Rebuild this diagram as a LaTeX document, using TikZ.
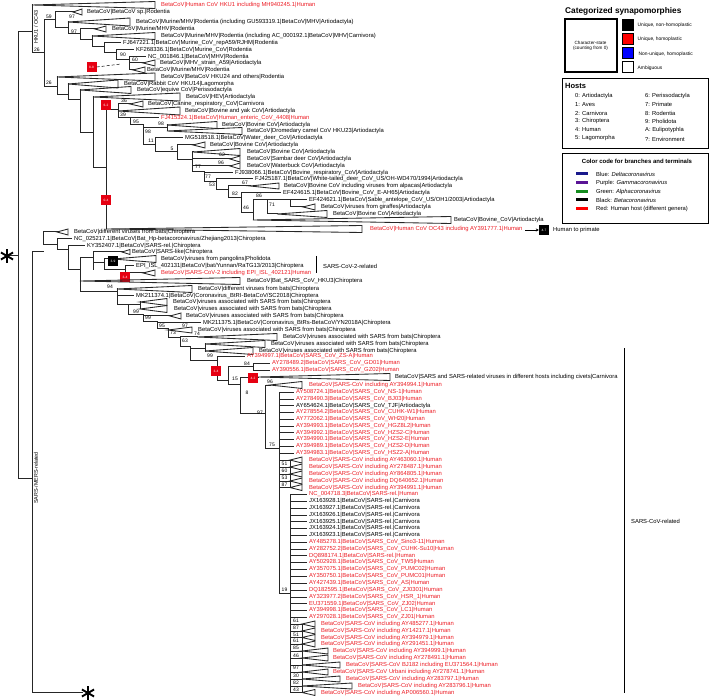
\documentclass[tikz,border=0pt]{standalone}
\usepackage{fontspec}
\setmainfont{Liberation Sans}
\usetikzlibrary{arrows.meta}
\definecolor{labred}{RGB}{236,28,36}
\definecolor{boxred}{RGB}{230,0,18}
\definecolor{lgblue}{RGB}{25,25,140}
\definecolor{lgpurple}{RGB}{90,20,150}
\definecolor{lggreen}{RGB}{20,140,30}
\newcounter{nn}
\tikzset{
 br/.style={line width=1pt, line cap=rect, line join=miter, draw=black!85},
 tri/.style={line width=0.85pt, line join=miter, draw=black!85},
 lbl/.style={anchor=west, inner sep=0pt, font=\fontsize{5.85}{6.5}\selectfont},
 svl/.style={inner sep=0pt, font=\fontsize{5}{5.5}\selectfont},
 synbox/.style={minimum width=10pt, minimum height=10pt, inner sep=0pt, text=white, font=\fontsize{3.2}{3.2}\selectfont},
 lgtxt/.style={anchor=west, inner sep=0pt, font=\fontsize{5.8}{6.5}\selectfont},
}
\newcommand\Vl[3]{\draw[br] (#1,#2) -- (#1,#3);}
\newcommand\Hl[3]{\draw[br] (#2,#1) -- (#3,#1);}
\newcommand\Tr[4]{\draw[tri] (#1,#2) -- (#3,{#2-#4}) -- (#3,{#2+#4}) -- cycle;}
\newcommand\leaftxt[4][black]{\stepcounter{nn}\node[lbl,text=#1] (n\arabic{nn}) at (#2,#3) {#4};}
\newcommand\leafx[5]{\draw[br] (#1,#2) -- ({#3-3},#2); \leaftxt[#4]{#3}{#2}{#5}}
\newcommand\trileaf[8]{\draw[br] (#1,#2) -- (#3,#2); \Tr{#3}{#2}{#4}{#5} \leaftxt[#7]{#6}{#2}{#8}}
\newcommand\bsv[3]{\stepcounter{nn}\node[svl] (n\arabic{nn}) at (#1,#2) {#3};}
\newcommand\synb[4]{\stepcounter{nn}\node[synbox,fill=#1] (n\arabic{nn}) at (#2,#3) {#4};}
\newcommand\astar[2]{\foreach \a in {90,30,-30,-90,-150,150}{\draw[line width=1.9pt] (#1,#2) -- ++(\a:7);}}
\begin{document}
\begin{tikzpicture}[x=1pt,y=-1pt]
\useasboundingbox (0,0) rectangle (709,700);
% ---------------- root ----------------
\Vl{18}{32}{478}
\Hl{256}{9}{18}
\astar{7}{256}
% ---------------- HKU1 / OC43 ----------------
\Hl{32}{18}{32}
\Vl{32}{5}{53}
\node[rotate=90, inner sep=0pt, font=\fontsize{5.4}{6}\selectfont] (hk) at (36,27) {HKU1 / OC43};
\trileaf{32}{5}{32}{155}{3.5}{161}{labred}{BetaCoV|Human CoV HKU1 including MH940245.1|Human}
\Hl{53}{32}{44}
\Vl{44}{20}{87}
\Hl{20}{44}{55}
\Vl{55}{12}{28}
\trileaf{55}{12}{73}{82}{3}{87}{black}{BetaCoV|BetaCoV sp.|Rodentia}
\Hl{28}{55}{68}
\Vl{68}{22}{34}
\trileaf{68}{22}{68}{130}{4}{136}{black}{BetaCoV|Murine/MHV|Rodentia (including GU593319.1|BetaCoV|MHV|Artiodactyla)}
\Hl{34}{68}{80}
\Vl{80}{29}{40}
\trileaf{80}{29}{95}{106}{3}{112}{black}{BetaCoV|Murine/MHV|Rodentia}
\Hl{40}{80}{92}
\Vl{92}{36}{47}
\trileaf{92}{36}{92}{155}{3.5}{161}{black}{BetaCoV|Murine/MHV|Rodentia (including AC\_000192.1|BetaCoV|MHV|Carnivora)}
\Hl{47}{92}{104}
\Vl{104}{43}{53}
\leafx{104}{43}{123}{black}{FJ647221.1|BetaCoV|Murine\_CoV\_repA59/RJHM|Rodentia}
\Hl{53}{104}{116}
\Vl{116}{50}{60}
\leafx{116}{50}{136}{black}{KF268336.1|BetaCoV|Murine\_CoV|Rodentia}
\Hl{60}{116}{129}
\Vl{129}{57}{70}
\leafx{129}{57}{148}{black}{NC\_001846.1|BetaCoV|MHV|Rodentia}
\trileaf{129}{63}{143}{155}{3}{160}{black}{BetaCoV|MHV\_strain\_A59|Artiodactyla}
\trileaf{129}{70}{133}{145}{3}{147}{black}{BetaCoV|Murine/MHV|Rodentia}
\bsv{72}{17}{97}
\bsv{49}{17}{59}
\bsv{74}{32}{97}
\bsv{123}{55}{90}
\bsv{135}{60}{60}
\bsv{37}{50}{26}
\synb{boxred}{91.5}{67}{8-8}
\draw[densely dashed, line width=0.5pt] (n\arabic{nn}.east) -- (121,64);
\Hl{87}{44}{57}
\Vl{57}{77}{95}
\bsv{49}{83}{26}
\trileaf{57}{77}{57}{155}{4}{161}{black}{BetaCoV|BetaCoV HKU24 and others|Rodentia}
\Hl{95}{57}{68}
\Vl{68}{84}{100}
\trileaf{68}{84}{68}{118}{4}{124}{black}{BetaCoV|Rabbit CoV HKU14|Lagomorpha}
\Hl{100}{68}{80}
\Vl{80}{90}{133}
\trileaf{80}{90}{80}{131}{3.5}{137}{black}{BetaCoV|equive CoV|Perissodactyla}
\Hl{133}{80}{93}
\Vl{93}{97}{168}
\trileaf{93}{97}{93}{180}{4}{186}{black}{BetaCoV|HEV|Artiodactyla}
\Hl{168}{93}{106}
\Vl{106}{110}{229}
\Hl{110}{106}{118}
\Vl{118}{104}{118}
\trileaf{118}{104}{130}{143}{3}{148}{black}{BetaCoV|Canine\_respiratory\_CoV|Carnivora}
\trileaf{118}{111}{118}{180}{4}{185}{black}{BetaCoV|Bovine and yak CoV|Artiodactyla}
\Hl{118}{118}{130}
\Vl{130}{118}{125}
\leafx{130}{118}{161}{labred}{FJ415324.1|BetaCoV|Human\_enteric\_CoV\_4408|Human}
\Hl{125}{130}{143}
\Vl{143}{125}{145}
\Hl{128}{143}{167}
\Vl{167}{125}{131}
\trileaf{167}{125}{167}{217}{3.5}{222}{black}{BetaCoV|Bovine CoV|Artiodactyla}
\trileaf{167}{131}{167}{242}{3.5}{247}{black}{BetaCoV|Dromedary camel CoV HKU23|Artiodactyla}
\Hl{145}{143}{155}
\Vl{155}{138}{152}
\leafx{155}{138}{185}{black}{MG518518.1|BetaCoV|Water\_deer\_CoV|Artiodactyla}
\Hl{152}{155}{177}
\Vl{177}{145}{160}
\trileaf{177}{145}{193}{205}{3}{210}{black}{BetaCoV|Bovine CoV|Artiodactyla}
\Hl{160}{177}{192}
\Vl{192}{152}{172}
\trileaf{192}{152}{193}{240}{3.5}{247}{black}{BetaCoV|Bovine CoV|Artiodactyla}
\trileaf{192}{159}{230}{240}{3}{247}{black}{BetaCoV|Sambar deer CoV|Artiodactyla}
\trileaf{192}{166}{230}{240}{3}{247}{black}{BetaCoV|Waterbuck CoV|Artiodactyla}
\Hl{172}{192}{204}
\Vl{204}{172}{182}
\leafx{204}{173}{235}{black}{FJ938066.1|BetaCoV|Bovine\_respiratory\_CoV|Artiodactyla}
\Hl{182}{204}{216}
\Vl{216}{179}{190}
\leafx{216}{179}{255}{black}{FJ425187.1|BetaCoV|White-tailed\_deer\_CoV\_US/OH-WD470/1994|Artiodactyla}
\Hl{190}{216}{228}
\Vl{228}{186}{198}
\trileaf{228}{186}{250}{279}{3}{284}{black}{BetaCoV|Bovine CoV including viruses from alpacas|Artiodactyla}
\Hl{198}{228}{241}
\Vl{241}{193}{213}
\leafx{241}{193}{283}{black}{EF424615.1|BetaCoV|Bovine\_CoV\_E-AH65|Artiodactyla}
\Hl{213}{241}{253}
\Vl{253}{200}{220}
\Hl{200}{253}{267}
\Vl{267}{200}{214}
\Hl{200}{267}{290}
\Vl{290}{200}{207}
\leafx{290}{200}{309}{black}{EF424621.1|BetaCoV|Sable\_antelope\_CoV\_US/OH1/2003|Artiodactyla}
\trileaf{290}{207}{303}{315}{3}{321}{black}{BetaCoV|viruses from giraffes|Artiodactyla}
\trileaf{267}{214}{277}{327}{3.5}{333}{black}{BetaCoV|Bovine CoV|Artiodactyla}
\trileaf{253}{220}{253}{451}{3.5}{454}{black}{BetaCoV|Bovine\_CoV|Artiodactyla}
\trileaf{106}{229}{106}{362}{3.5}{370}{labred}{BetaCoV|Human CoV OC43 including AY391777.1|Human}
\synb{boxred}{106}{105}{6-2}
\synb{boxred}{106}{200}{0-4}
\bsv{124}{101}{36}
\bsv{123}{115}{39}
\bsv{136}{122}{95}
\bsv{161}{124}{98}
\bsv{148}{132}{98}
\bsv{151}{141}{11}
\bsv{172}{149}{5}
\bsv{222}{155}{62}
\bsv{221}{163}{96}
\bsv{198}{167}{77}
\bsv{208}{177}{77}
\bsv{245}{183}{67}
\bsv{212}{185}{53}
\bsv{235}{194}{82}
\bsv{259}{196}{86}
\bsv{272}{205}{71}
\bsv{246}{208}{46}
% human to primate
\synb{black}{544}{230}{4-7}
\draw[line width=0.7pt,-{Stealth[length=3pt,width=3pt]}] (525,230) -- (n\arabic{nn}.west);
\leaftxt{553}{230}{Human to primate}
% ---------------- SARS / MERS related ----------------
\Hl{478}{18}{32}
\Vl{32}{252}{692}
\node[rotate=90, inner sep=0pt, font=\fontsize{5.4}{6}\selectfont] (smr) at (36,478) {SARS-/MERS-related};
\Hl{692}{32}{82}
\astar{88}{693}
\Hl{252}{32}{43}
\Vl{43}{232}{245}
\trileaf{43}{232}{57}{68}{3}{74}{black}{BetaCoV|different viruses from bats|Chiroptera}
\Hl{245}{43}{57}
\Vl{57}{239}{250}
\leafx{57}{239}{74}{black}{NC\_025217.1|BetaCoV|Bat\_Hp-betacoronavirus/Zhejiang2013|Chiroptera}
\Hl{250}{57}{68}
\Vl{68}{246}{270}
\leafx{68}{246}{87}{black}{KY352407.1|BetaCoV|SARS-rel.|Chiroptera}
\Hl{270}{68}{80}
\Vl{80}{258}{292}
\Hl{258}{80}{93}
\Vl{93}{252}{270}
\trileaf{93}{252}{122}{130}{2.5}{132}{black}{BetaCoV|SARS-like|Chiroptera}
\Hl{263}{93}{104}
\Vl{104}{259}{270}
\trileaf{104}{259}{113}{156}{3.5}{161}{black}{BetaCoV|viruses from pangolins|Pholidota}
\Hl{270}{104}{125}
\Vl{125}{266}{277}
\leafx{125}{266}{136}{black}{EPI\_ISL\_402131|BetaCoV|bat/Yunnan/RaTG13/2013|Chiroptera}
\trileaf{125}{273}{143}{155}{3}{161}{labred}{BetaCoV|SARS-CoV-2 including EPI\_ISL\_402121|Human}
\synb{black}{113}{261}{3-9}
\synb{boxred}{125}{277}{3-4}
\trileaf{80}{281}{80}{240}{3.5}{247}{black}{BetaCoV|Bat\_SARS\_CoV\_HKU3|Chiroptera}
\draw[line width=0.8pt] (316,256) -- (316,273);
\leaftxt{323}{266}{SARS-CoV-2-related}
\Hl{292}{80}{117}
\Vl{117}{289}{305}
\bsv{110}{287}{94}
\trileaf{117}{289}{117}{192}{3.5}{198}{black}{BetaCoV|different viruses from bats|Chiroptera}
\leafx{117}{296}{136}{black}{MK211374.1|BetaCoV|Coronavirus\_BtRI-BetaCoV/SC2018|Chiroptera}
\Hl{305}{117}{128}
\Vl{128}{305}{315}
\Hl{305}{128}{140}
\Vl{140}{302}{309}
\trileaf{140}{302}{140}{167}{3.5}{173}{black}{BetaCoV|viruses associated with SARS from bats|Chiroptera}
\trileaf{140}{309}{140}{167}{3.5}{174}{black}{BetaCoV|viruses associated with SARS from bats|Chiroptera}
\Hl{315}{128}{143}
\Vl{143}{315}{322}
\trileaf{143}{316}{170}{181}{3}{186}{black}{BetaCoV|viruses associated with SARS from bats|Chiroptera}
\Hl{322}{143}{157}
\Vl{157}{322}{329}
\leafx{157}{323}{203}{black}{MK211375.1|BetaCoV|Coronavirus\_BtRs-BetaCoV/YN2018A|Chiroptera}
\Hl{329}{157}{168}
\Vl{168}{329}{338}
\trileaf{168}{330}{168}{192}{3}{198}{black}{BetaCoV|viruses associated with SARS from bats|Chiroptera}
\Hl{338}{168}{180}
\Vl{180}{337}{346}
\trileaf{180}{337}{197}{277}{3.5}{283}{black}{BetaCoV|viruses associated with SARS from bats|Chiroptera}
\Hl{346}{180}{190}
\Vl{190}{346}{360}
\Hl{348}{190}{205}
\Vl{205}{344}{351}
\trileaf{205}{344}{205}{265}{3.5}{271}{black}{BetaCoV|viruses associated with SARS from bats|Chiroptera}
\trileaf{205}{351}{205}{253}{3.5}{259}{black}{BetaCoV|viruses associated with SARS from bats|Chiroptera}
\Hl{360}{190}{217}
\Vl{217}{356}{380}
\leafx{217}{356}{247}{labred}{AY394997.1|BetaCoV|SARS\_CoV\_ZS-A|Human}
\Hl{380}{217}{228}
\Vl{228}{366}{384}
\Hl{366}{228}{253}
\Vl{253}{363}{370}
\leafx{253}{363}{272}{labred}{AY278489.2|BetaCoV|SARS\_CoV\_GD01|Human}
\leafx{253}{370}{272}{labred}{AY390556.1|BetaCoV|SARS\_CoV\_GZ02|Human}
\Hl{384}{228}{240}
\Vl{240}{378}{413}
\trileaf{240}{377}{258}{390}{3.5}{395}{black}{BetaCoV|SARS and SARS-related viruses in different hosts including civets|Carnivora}
\Hl{413}{240}{265}
\Vl{265}{385}{448}
\trileaf{265}{385}{270}{302}{3.5}{309}{labred}{BetaCoV|SARS-CoV including AY394994.1|Human}
\synb{boxred}{216}{371}{3-4}
\synb{boxred}{253}{378}{4-2}
\bsv{136}{312}{99}
\bsv{148}{318}{99}
\bsv{162}{326}{95}
\bsv{185}{326}{97}
\bsv{173}{333}{73}
\bsv{197}{334}{74}
\bsv{185}{341}{63}
\bsv{210}{356}{99}
\bsv{247}{364}{84}
\bsv{235}{379}{15}
\bsv{270}{382}{96}
\bsv{247}{393}{8}
\bsv{260}{413}{97}
\bsv{272}{445}{75}
% polytomy 1
\Hl{448}{265}{279}
\Vl{279}{392}{593}
\leafx{279}{392}{296}{labred}{AY508724.1|BetaCoV|SARS\_CoV\_NS-1|Human}
\leafx{279}{399}{296}{labred}{AY278490.3|BetaCoV|SARS\_CoV\_BJ03|Human}
\leafx{279}{405.5}{296}{black}{AY654624.1|BetaCoV|SARS\_CoV\_TJF|Artiodactyla}
\leafx{279}{412}{296}{labred}{AY278554.2|BetaCoV|SARS\_CoV\_CUHK-W1|Human}
\leafx{279}{419}{296}{labred}{AY772062.1|BetaCoV|SARS\_CoV\_WH20|Human}
\leafx{279}{426}{296}{labred}{AY394993.1|BetaCoV|SARS\_CoV\_HGZ8L2|Human}
\leafx{279}{432.5}{296}{labred}{AY394992.1|BetaCoV|SARS\_CoV\_HZS2-C|Human}
\leafx{279}{439}{296}{labred}{AY394990.1|BetaCoV|SARS\_CoV\_HZS2-E|Human}
\leafx{279}{446}{296}{labred}{AY394989.1|BetaCoV|SARS\_CoV\_HZS2-D|Human}
\leafx{279}{453}{296}{labred}{AY394983.1|BetaCoV|SARS\_CoV\_HSZ2-A|Human}
\Vl{290}{460}{487.5}
\trileaf{279}{460}{290}{302}{3}{309}{labred}{BetaCoV|SARS-CoV including AY463060.1|Human}
\trileaf{279}{467}{290}{302}{3}{309}{labred}{BetaCoV|SARS-CoV including AY278487.1|Human}
\trileaf{279}{474}{290}{302}{3}{309}{labred}{BetaCoV|SARS-CoV including AY864805.1|Human}
\trileaf{279}{481}{290}{302}{3}{309}{labred}{BetaCoV|SARS-CoV including DQ640652.1|Human}
\trileaf{279}{487.5}{290}{302}{3}{309}{labred}{BetaCoV|SARS-CoV including AY394991.1|Human}
\bsv{284.5}{463.5}{51}
\bsv{284.5}{470.5}{60}
\bsv{284.5}{477.5}{53}
\bsv{284.5}{484.3}{87}
% polytomy 2
\Hl{593}{279}{290}
\bsv{284.5}{590}{19}
\Vl{290}{494}{692.5}
\leafx{290}{494}{309}{labred}{NC\_004718.3|BetaCoV|SARS-rel.|Human}
\leafx{290}{501}{309}{black}{JX163928.1|BetaCoV|SARS-rel.|Carnivora}
\leafx{290}{508}{309}{black}{JX163927.1|BetaCoV|SARS-rel.|Carnivora}
\leafx{290}{515}{309}{black}{JX163926.1|BetaCoV|SARS-rel.|Carnivora}
\leafx{290}{521.5}{309}{black}{JX163925.1|BetaCoV|SARS-rel.|Carnivora}
\leafx{290}{528}{309}{black}{JX163924.1|BetaCoV|SARS-rel.|Carnivora}
\leafx{290}{535}{309}{black}{JX163923.1|BetaCoV|SARS-rel.|Carnivora}
\leafx{290}{542}{309}{labred}{AY485278.1|BetaCoV|SARS\_CoV\_Sino3-11|Human}
\leafx{290}{549}{309}{labred}{AY282752.2|BetaCoV|SARS\_CoV\_CUHK-Su10|Human}
\leafx{290}{555.5}{309}{labred}{DQ898174.1|BetaCoV|SARS-rel.|Human}
\leafx{290}{562}{309}{labred}{AY502928.1|BetaCoV|SARS\_CoV\_TW5|Human}
\leafx{290}{569}{309}{labred}{AY357075.1|BetaCoV|SARS\_CoV\_PUMC02|Human}
\leafx{290}{576}{309}{labred}{AY350750.1|BetaCoV|SARS\_CoV\_PUMC01|Human}
\leafx{290}{583}{309}{labred}{AY427439.1|BetaCoV|SARS\_CoV\_AS|Human}
\leafx{290}{590}{309}{labred}{DQ182595.1|BetaCoV|SARS\_CoV\_ZJ0301|Human}
\leafx{290}{597}{309}{labred}{AY323977.2|BetaCoV|SARS\_CoV\_HSR\_1|Human}
\leafx{290}{603.5}{309}{labred}{EU371559.1|BetaCoV|SARS\_CoV\_ZJ02|Human}
\leafx{290}{610}{309}{labred}{AY394998.1|BetaCoV|SARS\_CoV\_LC1|Human}
\leafx{290}{617}{309}{labred}{AY297028.1|BetaCoV|SARS\_CoV\_ZJ01|Human}
\Vl{302}{624}{692.5}
\trileaf{290}{624}{302}{315}{3}{321}{labred}{BetaCoV|SARS-CoV including AY485277.1|Human}
\trileaf{290}{631}{302}{315}{3}{321}{labred}{BetaCoV|SARS-CoV including AY14217.1|Human}
\trileaf{290}{637.5}{302}{315}{3}{321}{labred}{BetaCoV|SARS-CoV including AY394979.1|Human}
\trileaf{290}{644}{302}{315}{3}{321}{labred}{BetaCoV|SARS-CoV including AY291451.1|Human}
\trileaf{290}{651}{302}{328}{3}{333}{labred}{BetaCoV|SARS-CoV including AY394999.1|Human}
\trileaf{290}{658}{302}{328}{3}{333}{labred}{BetaCoV|SARS-CoV including AY278491.1|Human}
\trileaf{290}{665}{302}{340}{3}{346}{labred}{BetaCoV|SARS-CoV BJ182 including EU371564.1|Human}
\trileaf{290}{672}{302}{328}{3}{333}{labred}{BetaCoV|SARS-CoV Urbani including AY278741.1|Human}
\trileaf{290}{679}{302}{340}{3}{346}{labred}{BetaCoV|SARS-CoV including AY283797.1|Human}
\trileaf{290}{686}{302}{352}{3}{358}{labred}{BetaCoV|SARS-CoV including AY283796.1|Human}
\trileaf{290}{692.5}{302}{315}{3}{321}{labred}{BetaCoV|SARS-CoV including AP006560.1|Human}
\bsv{296}{621}{61}
\bsv{296}{628}{87}
\bsv{296}{634.5}{51}
\bsv{296}{641}{61}
\bsv{296}{648}{85}
\bsv{296}{655.5}{46}
\bsv{296}{668}{97}
\bsv{296}{675.5}{30}
\bsv{296}{682.5}{82}
\bsv{296}{689.5}{43}
\draw[line width=0.8pt] (624,348) -- (624,693);
\leaftxt{631}{521}{SARS-CoV-related}
% ---------------- legends ----------------
\node[anchor=west, inner sep=0pt, font=\bfseries\fontsize{8.3}{9}\selectfont] (lg1) at (565,11) {Categorized synapomorphies};
\node[draw, line width=2pt, minimum width=52pt, minimum height=53pt, inner sep=0pt, align=center, font=\fontsize{4.6}{5.6}\selectfont] (cs) at (590.5,46) {Character-state\\(counting from 0)};
\node[draw, line width=0.7pt, fill=black, minimum size=11.5pt, inner sep=0pt] (q1) at (628,25) {};
\node[draw, line width=0.7pt, fill=red, minimum size=11.5pt, inner sep=0pt] (q2) at (628,39) {};
\node[draw, line width=0.7pt, fill=blue, minimum size=11.5pt, inner sep=0pt] (q3) at (628,53) {};
\node[draw, line width=0.7pt, fill=white, minimum size=11.5pt, inner sep=0pt] (q4) at (628,67) {};
\node[anchor=west, inner sep=0pt, font=\fontsize{4.9}{5.5}\selectfont] (q1t) at (637.5,25) {Unique, non-homoplastic};
\node[anchor=west, inner sep=0pt, font=\fontsize{4.9}{5.5}\selectfont] (q2t) at (637.5,39) {Unique, homoplastic};
\node[anchor=west, inner sep=0pt, font=\fontsize{4.9}{5.5}\selectfont] (q3t) at (638.5,54) {Non-unique, homoplastic};
\node[anchor=west, inner sep=0pt, font=\fontsize{4.9}{5.5}\selectfont] (q4t) at (637.5,68) {Ambiguous};
\node[draw, line width=1pt, minimum width=146pt, minimum height=70pt, anchor=north west, inner sep=0pt] (hb) at (562,78) {};
\node[anchor=west, inner sep=0pt, font=\bfseries\fontsize{7.5}{8}\selectfont] (hbt) at (565,86) {Hosts};
\node[lgtxt] (h0) at (575,96) {0: Artiodactyla};
\node[lgtxt] (h1) at (575,104.5) {1: Aves};
\node[lgtxt] (h2) at (575,113) {2: Carnivora};
\node[lgtxt] (h3) at (575,121.5) {3: Chiroptera};
\node[lgtxt] (h4) at (575,130) {4: Human};
\node[lgtxt] (h5) at (575,138.5) {5: Lagomorpha};
\node[lgtxt] (h6) at (645,96) {6: Perissodactyla};
\node[lgtxt] (h7) at (645,104.5) {7: Primate};
\node[lgtxt] (h8) at (645,113) {8: Rodentia};
\node[lgtxt] (h9) at (645,121.5) {9: Pholidota};
\node[lgtxt] (hA) at (645,130) {A: Eulipotyphla};
\node[lgtxt] (hQ) at (645,139) {?: Environment};
\node[draw, line width=1pt, minimum width=146pt, minimum height=70pt, anchor=north west, inner sep=0pt] (cb) at (562,153) {};
\node[inner sep=0pt, font=\bfseries\fontsize{6}{7}\selectfont] (cbt) at (637,161) {Color code for branches and terminals};
\fill[lgblue] (576,172.5) rectangle (588,175.5);
\fill[lgpurple] (576,181.5) rectangle (588,184.5);
\fill[lggreen] (576,190.5) rectangle (588,193.5);
\fill[black] (576,198.5) rectangle (588,201.5);
\fill[red] (576,207.5) rectangle (588,210.5);
\node[lgtxt] (c1) at (596,174) {Blue: \textit{Deltacoronavirus}};
\node[lgtxt] (c2) at (596,183) {Purple: \textit{Gammacoronavirus}};
\node[lgtxt] (c3) at (596,192) {Green: \textit{Alphacoronavirus}};
\node[lgtxt] (c4) at (596,200) {Black: \textit{Betacoronavirus}};
\node[lgtxt] (c5) at (596,209) {Red: Human host (different genera)};
\end{tikzpicture}
\end{document}
